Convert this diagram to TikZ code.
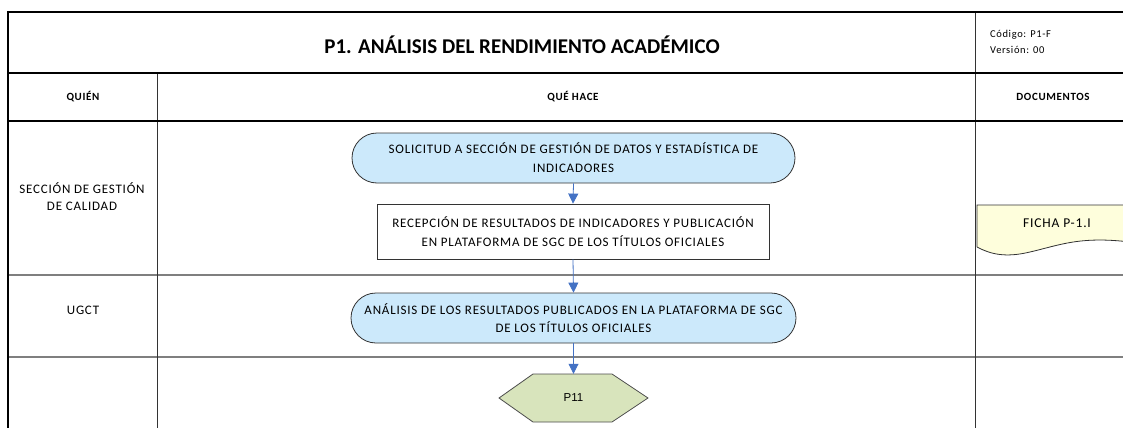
\documentclass[tikz,border=0pt]{standalone}
\usepackage{fontspec}
\setmainfont{Carlito}
\newfontfamily\arialf{Liberation Sans}
\newfontfamily\spaced[LetterSpace=6]{Carlito}
\usetikzlibrary{arrows.meta}
\definecolor{procblue}{HTML}{CCE9FB}
\definecolor{arrowblue}{HTML}{4472C4}
\definecolor{hexgreen}{HTML}{D8E4BC}
\definecolor{docyellow}{HTML}{FEFEDC}
\definecolor{lanegray}{HTML}{7F7F7F}
\tikzset{
  frame/.style={line width=2pt,black},
  lanesep/.style={line width=1.4pt,lanegray},
  colsep/.style={line width=0.9pt,black!80},
  hdr/.style={font=\spaced\bfseries\fontsize{11}{13}\selectfont,inner sep=0},
  lanelbl/.style={font=\spaced\fontsize{13}{17}\selectfont,align=center,inner sep=0},
  txt/.style={font=\spaced\fontsize{13}{19}\selectfont,align=center,inner sep=0},
  term/.style={draw=black!80,line width=0.8pt,fill=procblue,rounded corners=25pt,minimum height=50pt,inner sep=0},
  proc/.style={draw=black!80,line width=0.8pt,fill=white,minimum height=55pt,inner sep=0},
  flow/.style={arrowblue,line width=0.8pt,-{Triangle[width=10pt,length=10pt]}},
}
\begin{document}
\begin{tikzpicture}[x=1pt,y=-1pt]
\useasboundingbox (0,0) rectangle (1123,428);
\clip (0,0) rectangle (1123,428);
% lane separators
\draw[lanesep] (8,275) -- (1123,275);
\draw[lanesep] (8,357) -- (1123,357);
% columns
\draw[colsep] (157,73) -- (157,428);
\draw[colsep] (975,12) -- (975,428);
% frame lines
\draw[frame] (8,12) -- (1123,12);
\draw[frame] (8,73) -- (1123,73);
\draw[frame] (8,121) -- (1123,121);
\draw[frame] (8,11) -- (8,428);
% title and header
\node[font=\bfseries\fontsize{21}{24}\selectfont,inner sep=0] (title) at (522,45) {P1. ANÁLISIS DEL RENDIMIENTO ACADÉMICO};
\node[font=\spaced\fontsize{10.5}{16}\selectfont,align=left,anchor=west,inner sep=0] (code) at (990,42) {Código: P1-F\\Versión: 00};
\node[hdr] (quien) at (83,97) {QUIÉN};
\node[hdr] (quehace) at (573,97) {QUÉ HACE};
\node[hdr] (docs) at (1053,97) {DOCUMENTOS};
% lane labels
\node[lanelbl] (lane1) at (82,197) {SECCIÓN DE GESTIÓN\\DE CALIDAD};
\node[lanelbl] (lane2) at (83,310) {UGCT};
% flow nodes
\node[term,minimum width=443pt] (n1) at (573.5,158) {};
\node[txt] (n1t) at (n1.center) {SOLICITUD A SECCIÓN DE GESTIÓN DE DATOS Y ESTADÍSTICA DE\\INDICADORES};
\node[proc,minimum width=392pt] (n2) at (573,231.5) {};
\node[txt] (n2t) at (n2.center) {RECEPCIÓN DE RESULTADOS DE INDICADORES Y PUBLICACIÓN\\EN PLATAFORMA DE SGC DE LOS TÍTULOS OFICIALES};
\node[term,minimum width=445pt] (n3) at (573.5,318) {};
\node[txt,font=\spaced\fontsize{13}{18}\selectfont] (n3t) at (n3.center) {ANÁLISIS DE LOS RESULTADOS PUBLICADOS EN LA PLATAFORMA DE SGC\\DE LOS TÍTULOS OFICIALES};
% hexagon
\filldraw[fill=hexgreen,draw=black!70,line width=0.8pt] (499,398) -- (533,374) -- (612,374) -- (648,398) -- (612,422) -- (533,422) -- cycle;
\node[minimum width=149pt,minimum height=48pt,inner sep=0,font=\arialf\fontsize{11.5}{13}\selectfont] (p11) at (573.5,398) {P11};
% document
\filldraw[fill=docyellow,draw=black!80,line width=0.8pt] (977,247) -- (977,205) -- (1130,205) -- (1130,242)
  .. controls (1080,236) and (1060,245) .. (1030,252) .. controls (1005,258) and (990,254) .. (977,247);
\node[font=\spaced\fontsize{13.5}{15}\selectfont,inner sep=0] (doc) at (1057,223) {FICHA P-1.I};
% connectors
\draw[flow] (n1.south) -- (n2.north);
\draw[flow] (n2.south) -- (n3.north);
\draw[flow] (n3.south) -- (p11.north);
\end{tikzpicture}
\end{document}
